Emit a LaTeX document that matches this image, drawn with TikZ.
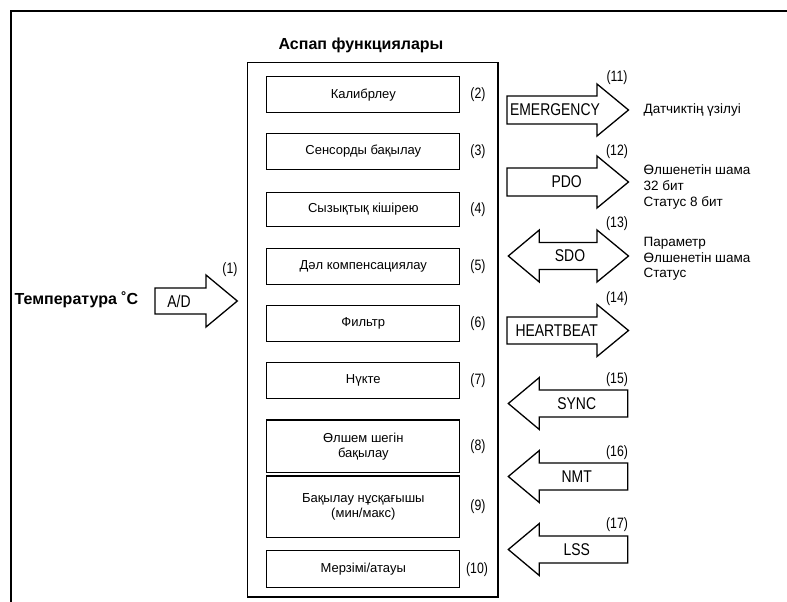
\documentclass[tikz,border=0pt]{standalone}
\usepackage{fontspec}
\setmainfont{Liberation Sans}
\newfontfamily\condfont[FakeStretch=0.82]{Liberation Sans}
\begin{document}
\begin{tikzpicture}[x=1pt, y=-1pt, line width=1.3pt,
    funcbox/.style={draw, minimum width=193pt, minimum height=36pt, align=center, font=\fontsize{13}{15}\selectfont},
    numlabel/.style={font=\condfont\fontsize{15}{15}\selectfont, inner sep=0pt},
    arrowlabel/.style={font=\condfont\fontsize{17}{17}\selectfont, inner sep=0pt},
    sidetext/.style={anchor=west, align=left, inner sep=0pt, font=\fontsize{13.5}{15.5}\selectfont}]
    \useasboundingbox (0, 0) rectangle (787, 602);

    \draw (11, 604) -- (11, 11) -- (789, 11);

    \node[font=\bfseries\fontsize{16}{16}\selectfont] (title) at (361, 45) {Аспап функциялары};
    \draw (247.7, 62.3) rectangle (498, 597);

    \node[funcbox] (kalib) at (363.3, 94.7) {Калибрлеу};
    \node[funcbox] (sensor) at (363.3, 151.3) {Сенсорды бақылау};
    \node[funcbox, minimum height=34.4pt] (linear) at (363.3, 209.5) {Сызықтық кішірею};
    \node[funcbox] (komp) at (363.3, 266.2) {Дәл компенсациялау};
    \node[funcbox] (filtr) at (363.3, 323.8) {Фильтр};
    \node[funcbox] (nukte) at (363.3, 380.5) {Нүкте};
    \node[funcbox, minimum height=52.7pt] (shek) at (363.3, 446.3) {Өлшем шегін\\бақылау};
    \node[funcbox, minimum height=61.7pt] (minmax) at (363.3, 506.8) {Бақылау нұсқағышы\\(мин/макс)};
    \node[funcbox, minimum height=37pt] (merzim) at (363.3, 569.3) {Мерзімі/атауы};

    \node[numlabel] (n2) at (478, 94.7) {(2)};
    \node[numlabel] (n3) at (478, 151.3) {(3)};
    \node[numlabel] (n4) at (478, 209.5) {(4)};
    \node[numlabel] (n5) at (478, 266.2) {(5)};
    \node[numlabel] (n6) at (478, 323.8) {(6)};
    \node[numlabel] (n7) at (478, 380.5) {(7)};
    \node[numlabel] (n8) at (478, 446.3) {(8)};
    \node[numlabel] (n9) at (478, 506.8) {(9)};
    \node[numlabel] (n10) at (477, 569.3) {(10)};

    % input side
    \node[anchor=west, inner sep=0pt, font=\bfseries\fontsize{16}{16}\selectfont] (temp) at (14, 300) {Температура ˚C};
    \draw (155, 288) -- (206, 288) -- (206, 275) -- (237.3, 301) -- (206, 327) -- (206, 314) -- (155, 314) -- cycle;
    \node[arrowlabel] (ad) at (179, 301) {A/D};
    \node[numlabel] (n1) at (230, 270) {(1)};

    % outgoing messages
    \draw (507, 96) -- (597, 96) -- (597, 84) -- (628.5, 110) -- (597, 136) -- (597, 124) -- (507, 124) -- cycle;
    \draw (507, 168) -- (597, 168) -- (597, 156) -- (628.5, 182) -- (597, 208) -- (597, 196) -- (507, 196) -- cycle;
    \draw (508.3, 256) -- (539.3, 230) -- (539.3, 242.5) -- (597, 242.5) -- (597, 230) -- (628.5, 256) -- (597, 282) -- (597, 269.5) -- (539.3, 269.5) -- (539.3, 282) -- cycle;
    \draw (507, 317) -- (597, 317) -- (597, 304.5) -- (628.5, 330.5) -- (597, 356.5) -- (597, 344) -- (507, 344) -- cycle;

    \node[arrowlabel] (emerg) at (555, 110) {EMERGENCY};
    \node[arrowlabel] (pdo) at (566.7, 182) {PDO};
    \node[arrowlabel] (sdo) at (570, 256) {SDO};
    \node[arrowlabel] (heart) at (556.7, 330.5) {HEARTBEAT};

    \node[numlabel] (n11) at (617, 78) {(11)};
    \node[numlabel] (n12) at (617, 152) {(12)};
    \node[numlabel] (n13) at (617, 223.5) {(13)};
    \node[numlabel] (n14) at (617, 299) {(14)};

    \node[sidetext] (uzilu) at (643, 110) {Датчиктің үзілуі};
    \node[sidetext, font=\fontsize{13.5}{16}\selectfont] (pdotext) at (643, 186.7) {Өлшенетін шама\\32 бит\\Статус 8 бит};
    \node[sidetext] (sdotext) at (643, 259) {Параметр\\Өлшенетін шама\\Статус};

    % incoming messages
    \draw (508.3, 403.5) -- (539.3, 377.5) -- (539.3, 390) -- (627.7, 390) -- (627.7, 417) -- (539.3, 417) -- (539.3, 429.5) -- cycle;
    \draw (508.3, 476.5) -- (539.3, 450.5) -- (539.3, 463) -- (627.7, 463) -- (627.7, 490) -- (539.3, 490) -- (539.3, 502.5) -- cycle;
    \draw (508.3, 549.5) -- (539.3, 523.5) -- (539.3, 536) -- (627.7, 536) -- (627.7, 563) -- (539.3, 563) -- (539.3, 575.5) -- cycle;

    \node[arrowlabel] (sync) at (576.7, 403.5) {SYNC};
    \node[arrowlabel] (nmt) at (576.7, 476.5) {NMT};
    \node[arrowlabel] (lss) at (576.7, 549.5) {LSS};

    \node[numlabel] (n15) at (617, 380) {(15)};
    \node[numlabel] (n16) at (617, 453) {(16)};
    \node[numlabel] (n17) at (617, 525) {(17)};
\end{tikzpicture}
\end{document}
